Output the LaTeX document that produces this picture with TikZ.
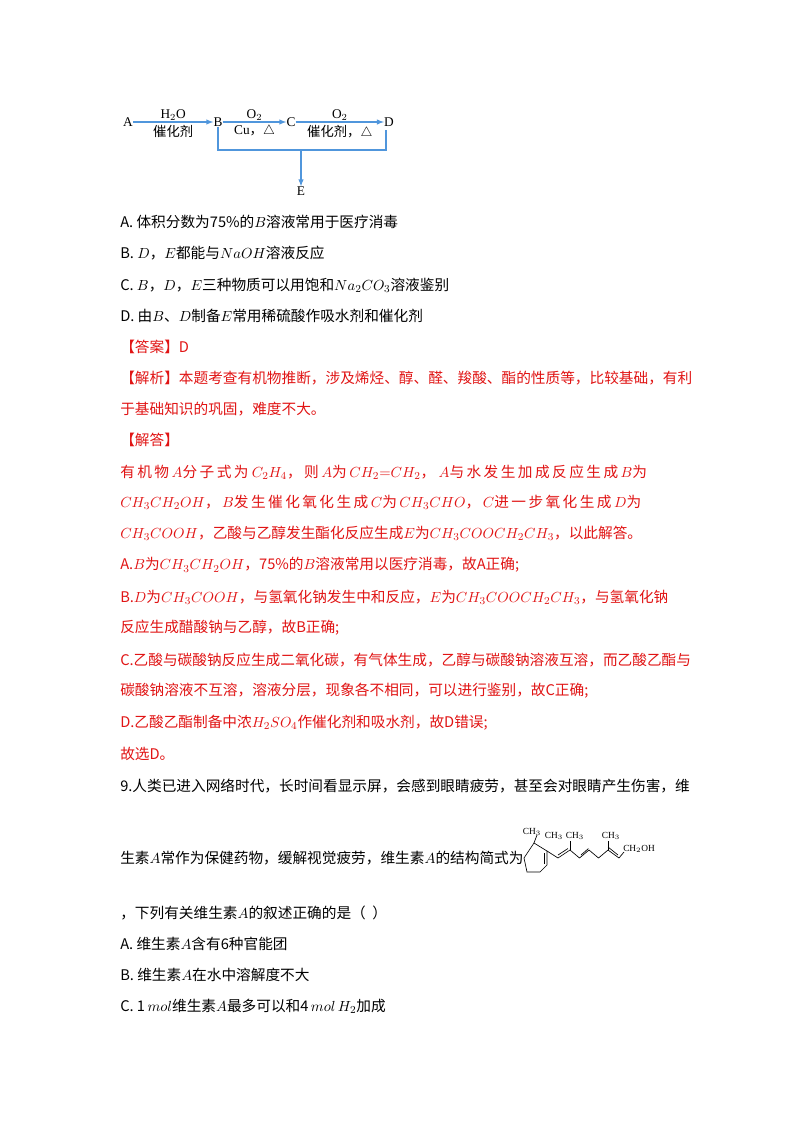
\documentclass[tikz,border=0pt]{standalone}
\usepackage{fontspec}
\setmainfont{Liberation Serif}
\newfontfamily\cjk{Noto Sans CJK SC}
\definecolor{ansred}{RGB}{225,20,20}
\definecolor{flowblue}{RGB}{80,150,220}
\begin{document}
\begin{tikzpicture}[x=0.75pt,y=-0.75pt,
  line/.style={anchor=west,inner sep=0pt,font=\cjk\fontsize{11}{13}\selectfont},
  red/.style={line,text=ansred},
  lbl/.style={inner sep=0pt,font=\fontsize{10}{12}\selectfont},
  flow/.style={draw=flowblue,line width=0.8pt,-latex},
  bond/.style={line width=0.5pt},
  chem/.style={inner sep=0pt,font=\fontsize{7}{8}\selectfont}]
\useasboundingbox (0,0) rectangle (800,1132);
\fill[white] (0,0) rectangle (800,1132);
% scheme
\node[lbl] (A) at (128,122) {A};
\node[lbl] (B) at (218,122) {B};
\node[lbl] (C) at (291,122) {C};
\node[lbl] (D) at (389,122) {D};
\node[lbl] (E) at (301,191) {E};
\draw[flow] (A) -- node[above=1pt,lbl]{H$_2$O} node[below=2pt,lbl]{\cjk 催化剂} (B);
\draw[flow] (B) -- node[above=1pt,lbl]{O$_2$} node[below=2pt,lbl]{Cu{\cjk ，}$\triangle$} (C);
\draw[flow] (C) -- node[above=1pt,lbl]{O$_2$} node[below=2pt,lbl]{{\cjk 催化剂，}$\triangle$} (D);
\coordinate (bl) at (218,150); \coordinate (br) at (386,150); \coordinate (bm) at (301,150);
\draw[draw=flowblue,line width=0.8pt] (B.south) -- (bl) -- (br) -- (386,130);
\draw[flow] (bm) -- (E.north);
% options
\node[line] (o1) at (120,222) {A.\ 体积分数为75\%的$B$溶液常用于医疗消毒};
\node[line] (o2) at (120,253) {B.\ $D$，$E$都能与$NaOH$溶液反应};
\node[line] (o3) at (120,285) {C.\ $B$，$D$，$E$三种物质可以用饱和$Na_2CO_3$溶液鉴别};
\node[line] (o4) at (120,316) {D.\ 由$B$、$D$制备$E$常用稀硫酸作吸水剂和催化剂};
\node[red] (r1) at (120,347) {【答案】D};
\node[red] (r2) at (120,378) {【解析】本题考查有机物推断，涉及烯烃、醇、醛、羧酸、酯的性质等，比较基础，有利};
\node[red] (r3) at (120,409) {于基础知识的巩固，难度不大。};
\node[red] (r4) at (120,440) {【解答】};
\node[red] (r5) at (120,472) {有\,机\,物\,$A$分\,子\,式\,为\ $C_2H_4$，\,则\,$A$为\,$CH_2{=}CH_2$，\ $A$与\,水\,发\,生\,加\,成\,反\,应\,生\,成\,$B$为};
\node[red] (r6) at (120,502) {$CH_3CH_2OH$，\,$B$发\,生\,催\,化\,氧\,化\,生\,成\,$C$为\,$CH_3CHO$，\,$C$进\,一\,步\,氧\,化\,生\,成\,$D$为};
\node[red] (r7) at (120,533) {$CH_3COOH$，乙酸与乙醇发生酯化反应生成$E$为$CH_3COOCH_2CH_3$，以此解答。};
\node[red] (r8) at (120,565) {A.$B$为$CH_3CH_2OH$，75\%的$B$溶液常用以医疗消毒，故A正确;};
\node[red] (r9) at (120,597) {B.$D$为$CH_3COOH$，与氢氧化钠发生中和反应，$E$为$CH_3COOCH_2CH_3$，与氢氧化钠};
\node[red] (r10) at (120,628) {反应生成醋酸钠与乙醇，故B正确;};
\node[red] (r11) at (120,660) {C.乙酸与碳酸钠反应生成二氧化碳，有气体生成，乙醇与碳酸钠溶液互溶，而乙酸乙酯与};
\node[red] (r12) at (120,691) {碳酸钠溶液不互溶，溶液分层，现象各不相同，可以进行鉴别，故C正确;};
\node[red] (r13) at (120,723) {D.乙酸乙酯制备中浓$H_2SO_4$作催化剂和吸水剂，故D错误;};
\node[red] (r14) at (120,754) {故选D。};
\node[line] (q1) at (120,786) {9.人类已进入网络时代，长时间看显示屏，会感到眼睛疲劳，甚至会对眼睛产生伤害，维};
\node[line] (q2) at (120,858) {生素$A$常作为保健药物，缓解视觉疲劳，维生素$A$的结构简式为};
\node[line] (q3) at (120,913) {，下列有关维生素$A$的叙述正确的是（\ \ ）};
\node[line] (q4) at (120,944) {A.\ 维生素$A$含有6种官能团};
\node[line] (q5) at (120,975) {B.\ 维生素$A$在水中溶解度不大};
\node[line] (q6) at (120,1006) {C.\ 1\,$mol$维生素$A$最多可以和4\,$mol\,H_2$加成};
% vitamin A structure
\begin{scope}[xshift=7.5pt]
\draw[bond] (524,843) -- (537,851) -- (537,865) -- (530,872) -- (517,872) -- (514,858) -- cycle;
\draw[bond] (534,853) -- (534,864);
\draw[bond] (537,851) -- (548,858) -- (560,850) -- (569.5,858) -- (579,850) -- (588.5,858) -- (598,850) -- (609,858) -- (614,852);
\draw[bond] (548,855) -- (558,848.5);
\draw[bond] (571,855) -- (578.5,848.5);
\draw[bond] (598,847) -- (608,855);
\draw[bond] (560,850) -- (560,841);
\draw[bond] (598,850) -- (598,841);
\draw[bond] (524,843) -- (527,835);
\node[chem] (m1) at (522,832) {CH$_3$};
\node[chem] (m2) at (544,836) {CH$_3$};
\node[chem] (m3) at (565,836) {CH$_3$};
\node[chem] (m4) at (601,836) {CH$_3$};
\node[chem,anchor=west] (m5) at (613,849) {CH$_2$OH};
\end{scope}
\end{tikzpicture}
\end{document}
